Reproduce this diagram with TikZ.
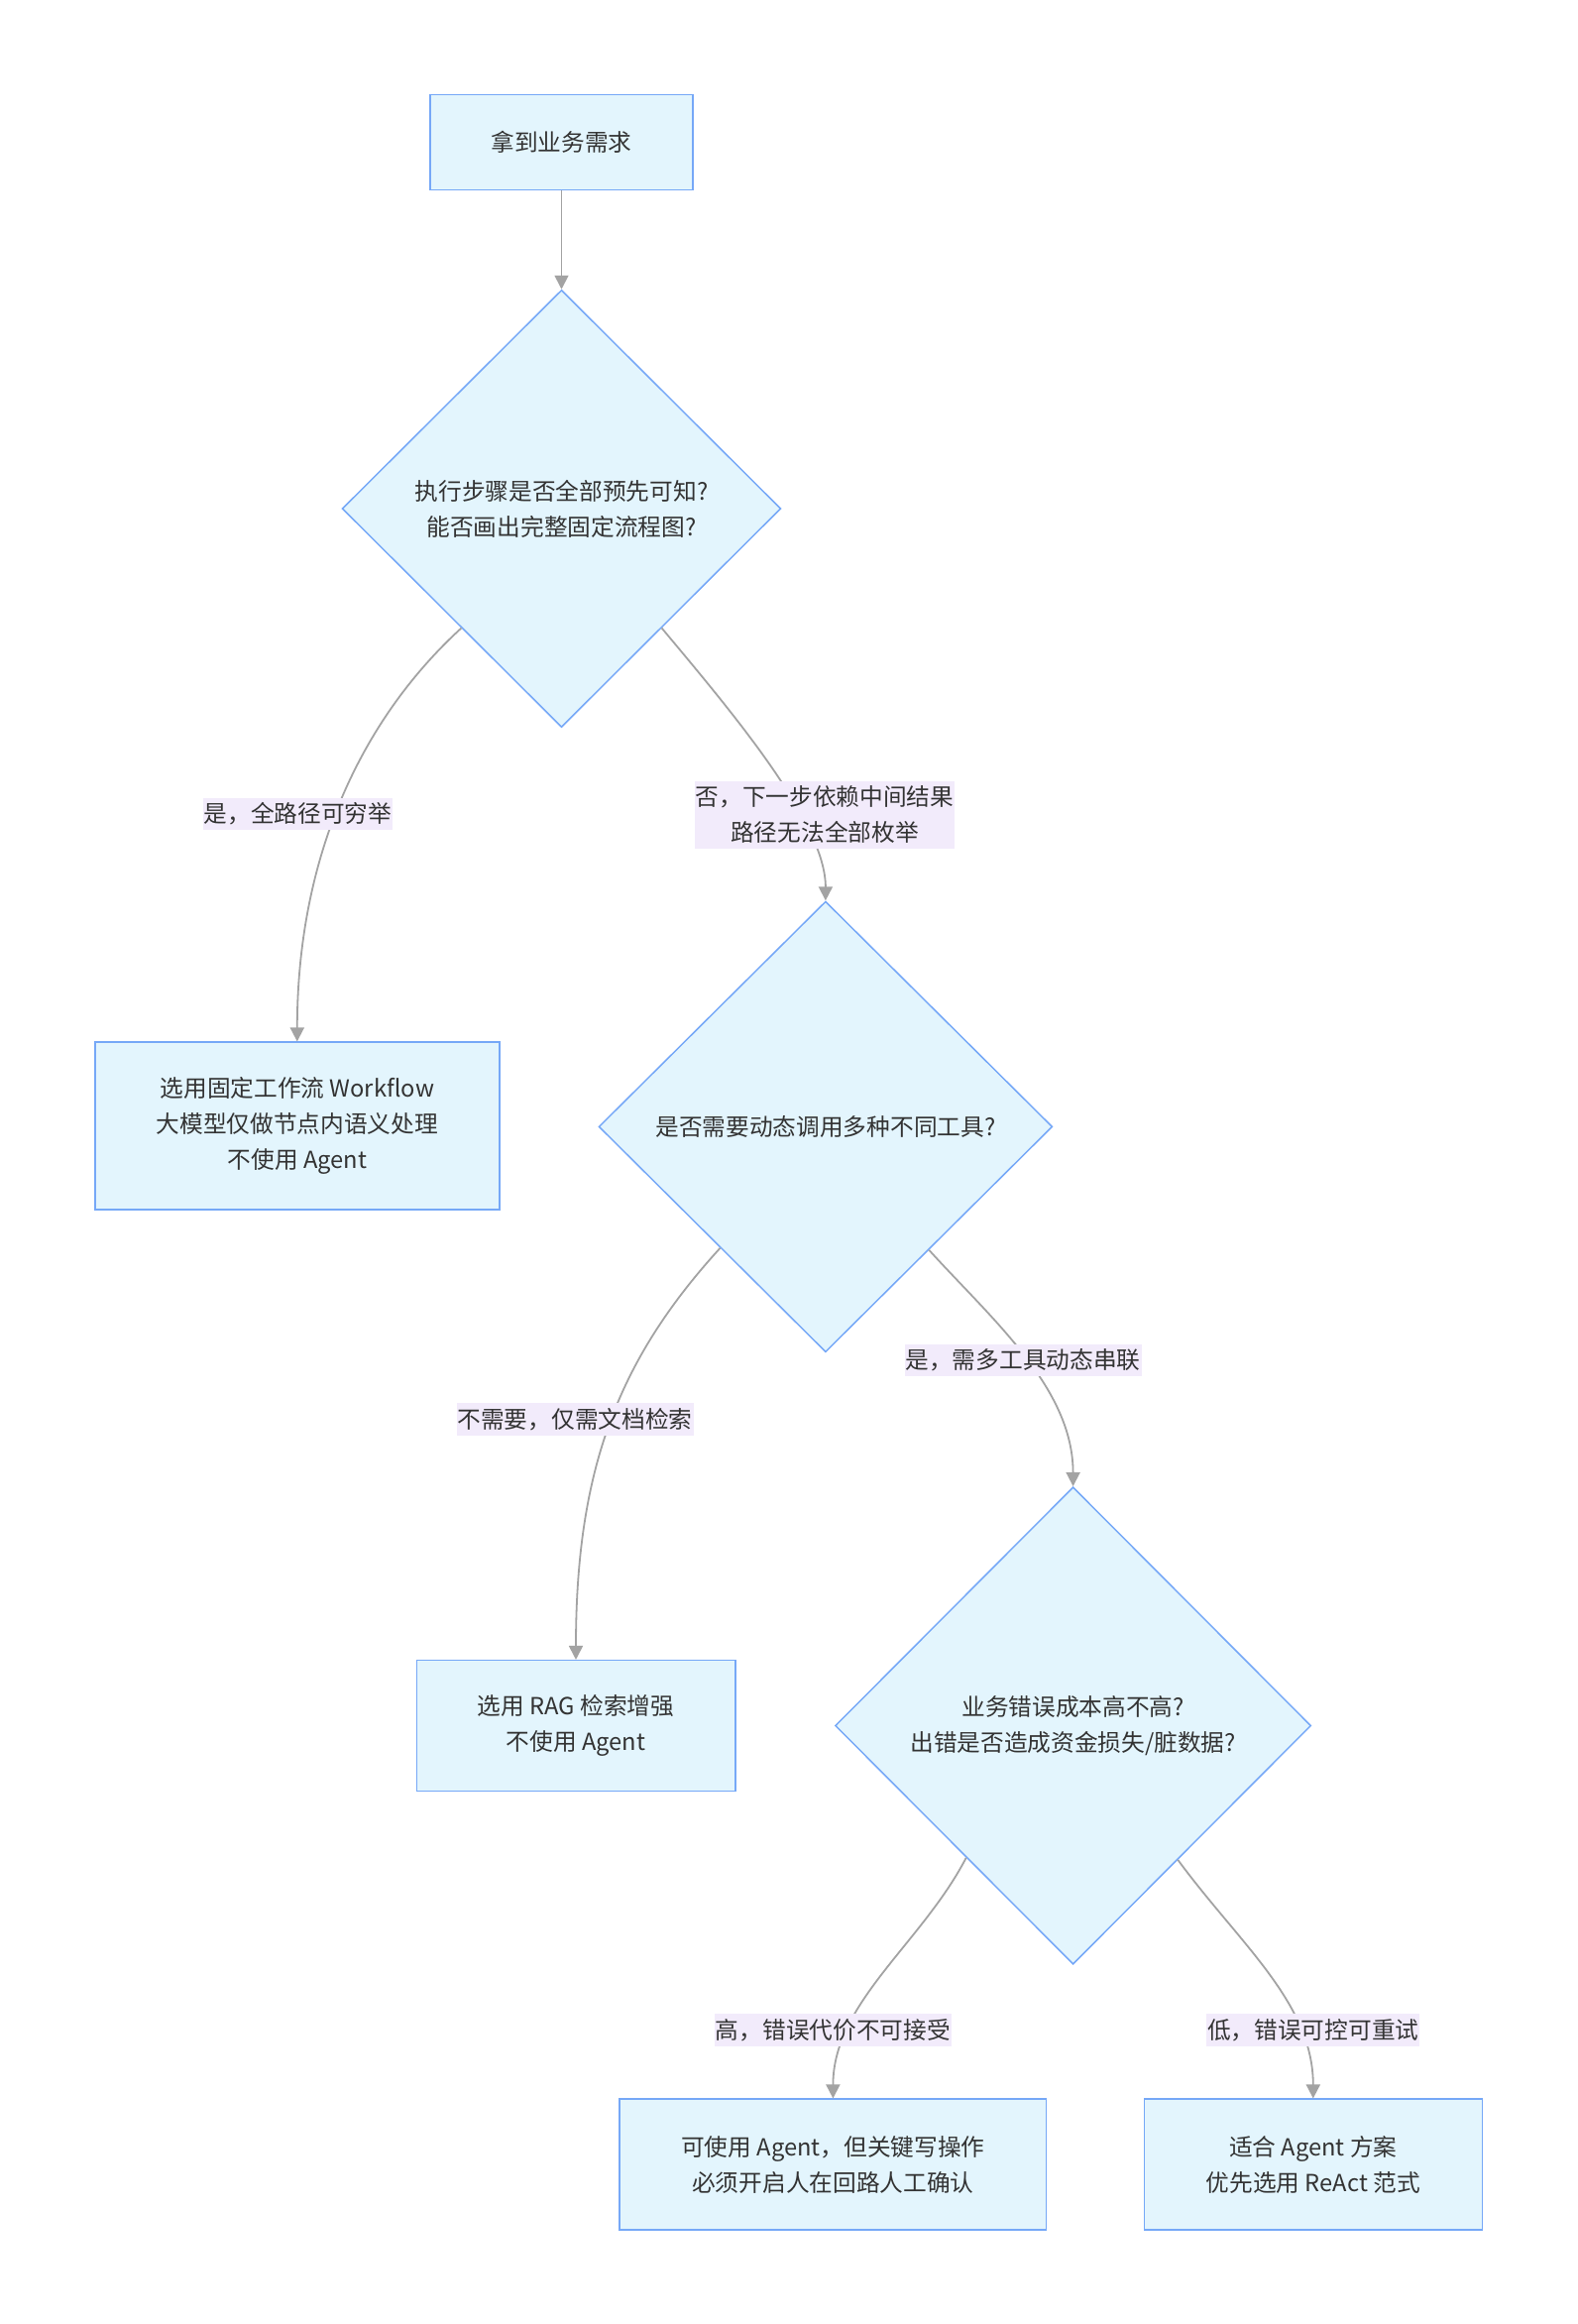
\documentclass[tikz,border=0pt]{standalone}
\usepackage{fontspec}
\setmainfont{Noto Sans CJK SC}
\usetikzlibrary{shapes.geometric,arrows.meta}
\definecolor{nodefill}{HTML}{E3F5FD}
\definecolor{nodeline}{HTML}{76A8F7}
\definecolor{lblfill}{HTML}{F2EBFB}
\definecolor{edgecol}{HTML}{A3A3A3}
\definecolor{txt}{HTML}{333333}
\begin{document}
\begin{tikzpicture}[x=1pt,y=-1pt,
 every node/.style={font=\fontsize{23.7}{36}\selectfont, text=txt},
 boxnode/.style={draw=nodeline, fill=nodefill, line width=1.5pt, align=center, inner sep=0pt},
 decision/.style={diamond, draw=nodeline, fill=nodefill, line width=1.5pt, align=center, inner sep=0pt, aspect=1},
 lbl/.style={fill=lblfill, align=center, inner xsep=1pt, inner ysep=5pt},
 conn/.style={draw=edgecol, line width=1.8pt, -{Triangle[length=14pt,width=14pt]}}
]
\useasboundingbox (0,0) rectangle (1591,2344);

\node[boxnode, minimum width=265pt, minimum height=96pt] (b1) at (566.5,143.5) {拿到业务需求};
\node[decision, minimum width=442.6pt, minimum height=441pt] (d1) at (566.5,513) {执行步骤是否全部预先可知?\\能否画出完整固定流程图?};
\node[boxnode, minimum width=408pt, minimum height=169pt] (b2) at (299.8,1135.7) {选用固定工作流 Workflow\\大模型仅做节点内语义处理\\不使用 Agent};
\node[decision, minimum width=457.6pt, minimum height=454.6pt] (d2) at (832.9,1136.4) {是否需要动态调用多种不同工具?};
\node[boxnode, minimum width=321.5pt, minimum height=131.6pt] (b3) at (581,1740.5) {选用 RAG 检索增强\\不使用 Agent};
\node[decision, minimum width=480pt, minimum height=481.4pt] (d3) at (1082.6,1740.5) {业务错误成本高不高?\\出错是否造成资金损失/脏数据?};
\node[boxnode, minimum width=430.6pt, minimum height=131.6pt] (b4) at (840.4,2183) {可使用 Agent，但关键写操作\\必须开启人在回路人工确认};
\node[boxnode, minimum width=341pt, minimum height=131.6pt] (b5) at (1324.8,2183) {适合 Agent 方案\\优先选用 ReAct 范式};

\draw[conn] (b1.south) -- (d1.north);
\draw[conn] (d1.230) .. controls (360,730) and (299.8,870) .. (b2.north);
\draw[conn] (d1.310) .. controls (740,720) and (832.9,830) .. (d2.north);
\draw[conn] (d2.229.5) .. controls (625,1370) and (581,1480) .. (b3.north);
\draw[conn] (d2.310.5) .. controls (1000,1330) and (1082.6,1400) .. (d3.north);
\draw[conn] (d3.231.8) .. controls (930,1960) and (840.4,2020) .. (b4.north);
\draw[conn] (d3.308.2) .. controls (1250,1960) and (1324.8,2020) .. (b5.north);

\node[lbl] (l1) at (300.5,821) {是，全路径可穷举};
\node[lbl] (l2) at (832,822) {否，下一步依赖中间结果\\路径无法全部枚举};
\node[lbl] (l3) at (580,1431.5) {不需要，仅需文档检索};
\node[lbl] (l4) at (1032,1372) {是，需多工具动态串联};
\node[lbl] (l5) at (840.4,2047.5) {高，错误代价不可接受};
\node[lbl] (l6) at (1324.8,2047.5) {低，错误可控可重试};
\end{tikzpicture}
\end{document}
